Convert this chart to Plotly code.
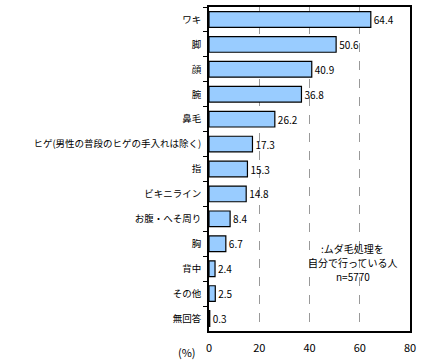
import plotly.graph_objects as go

categories = ["ワキ", "脚", "顔", "腕", "鼻毛", "ヒゲ(男性の普段のヒゲの手入れは除く)", "指",
              "ビキニライン", "お腹・へそ周り", "胸", "背中", "その他", "無回答"]
values = [64.4, 50.6, 40.9, 36.8, 26.2, 17.3, 15.3, 14.8, 8.4, 6.7, 2.4, 2.5, 0.3]
x_ticks = [0, 20, 40, 60, 80]
note_lines = [":ムダ毛処理を", "自分で行っている人", "n=5770"]

font = "Noto Sans CJK JP, sans-serif"

fig = go.Figure()
fig.add_trace(go.Bar(
    y=categories, x=values, orientation="h",
    marker=dict(color="#99CCFF", line=dict(color="black", width=1.2)),
    width=0.63,
    text=[f"{v:.1f}" for v in values], textposition="outside",
    textfont=dict(size=10, color="black", family=font),
    cliponaxis=False,
))

fig.update_layout(
    width=423, height=360,
    margin=dict(l=209, r=13, t=7, b=29, autoexpand=False),
    paper_bgcolor="white", plot_bgcolor="white",
    showlegend=False,
    font=dict(family=font, size=10, color="black"),
    bargap=0.37,
)
fig.update_xaxes(
    range=[0, 80], tickvals=x_ticks, ticktext=[str(t) for t in x_ticks],
    showgrid=True, gridcolor="#999999", griddash="dash", gridwidth=1,
    showline=True, linecolor="black", linewidth=1.5, mirror=True,
    zeroline=False, ticks="", tickfont=dict(size=11, family=font),
    automargin=False, ticklabelstandoff=6,
)
fig.update_yaxes(
    autorange="reversed", categoryorder="array", categoryarray=categories,
    showline=True, linecolor="black", linewidth=1.5, mirror=True,
    ticks="outside", ticklen=4, tickcolor="black", tickson="boundaries",
    showgrid=False, tickfont=dict(size=9.5, family=font), automargin=False,
    ticklabelstandoff=4,
)
fig.add_annotation(
    text="(%)", xref="paper", yref="paper", x=-0.055, y=-0.035,
    xanchor="right", yanchor="top", showarrow=False,
    font=dict(size=11, family=font),
)
for i, line in enumerate(note_lines):
    fig.add_annotation(
        text=line, xref="x", yref="paper", x=57.3, y=0.256 - i * 0.0435,
        xanchor="center", yanchor="middle", showarrow=False,
        font=dict(size=10, family=font),
    )
fig.write_html("out.html", config={"displayModeBar": False},
               post_script="document.body.style.margin='0';")
